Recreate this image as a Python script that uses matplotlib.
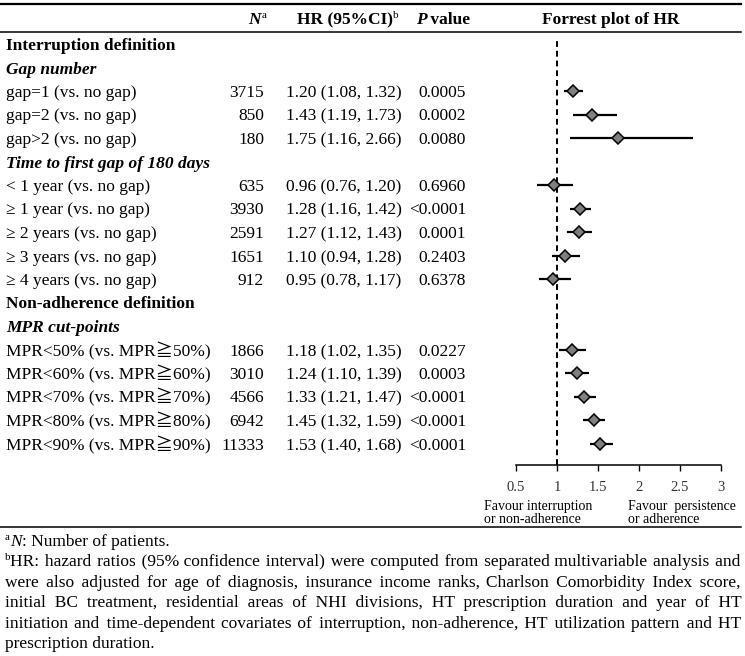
#!/usr/bin/env python3
"""Forest plot table of hazard ratios for interruption / non-adherence definitions."""
import matplotlib

matplotlib.use("Agg")
import matplotlib.pyplot as plt

plt.rcParams["font.family"] = ["Liberation Serif", "Noto Sans CJK JP"]

# ---- data -------------------------------------------------------------
gap_labels = ["gap=1 (vs. no gap)", "gap=2 (vs. no gap)", "gap>2 (vs. no gap)"]
gap_n = [3715, 850, 180]
gap_hr = [1.20, 1.43, 1.75]
gap_lo = [1.08, 1.19, 1.16]
gap_hi = [1.32, 1.73, 2.66]
gap_p = ["0.0005", "0.0002", "0.0080"]

time_labels = ["< 1 year (vs. no gap)", "\u2265 1 year (vs. no gap)", "\u2265 2 years (vs. no gap)",
               "\u2265 3 years (vs. no gap)", "\u2265 4 years (vs. no gap)"]
time_n = [635, 3930, 2591, 1651, 912]
time_hr = [0.96, 1.28, 1.27, 1.10, 0.95]
time_lo = [0.76, 1.16, 1.12, 0.94, 0.78]
time_hi = [1.20, 1.42, 1.43, 1.28, 1.17]
time_p = ["0.6960", "<0.0001", "0.0001", "0.2403", "0.6378"]

mpr_labels = [f"MPR<{c}% (vs. MPR\u2267{c}%)" for c in (50, 60, 70, 80, 90)]
mpr_n = [1866, 3010, 4566, 6942, 11333]
mpr_hr = [1.18, 1.24, 1.33, 1.45, 1.53]
mpr_lo = [1.02, 1.10, 1.21, 1.32, 1.40]
mpr_hi = [1.35, 1.39, 1.47, 1.59, 1.68]
mpr_p = ["0.0227", "0.0003", "<0.0001", "<0.0001", "<0.0001"]

x_ticks = [0.5, 1, 1.5, 2, 2.5, 3]
x_tick_labels = ["0.5", "1", "1.5", "2", "2.5", "3"]

footnote_b = [
    "HR: hazard ratios (95% confidence interval) were computed from separated multivariable analysis and",
    "were also adjusted for age of diagnosis, insurance income ranks, Charlson Comorbidity Index score,",
    "initial BC treatment, residential areas of NHI divisions, HT prescription duration and year of HT",
    "initiation and time-dependent covariates of interruption, non-adherence, HT utilization pattern and HT",
    "prescription duration.",
]

# (kind, label, data) ; kind: "sec" bold, "sub" bold italic, "row" data row
table = [("sec", "Interruption definition", None), ("sub", "Gap number", None)]
table += [("row", l, d) for l, d in zip(gap_labels, zip(gap_n, gap_hr, gap_lo, gap_hi, gap_p))]
table += [("sub", "Time to first gap of 180 days", None)]
table += [("row", l, d) for l, d in zip(time_labels, zip(time_n, time_hr, time_lo, time_hi, time_p))]
table += [("sec", "Non-adherence definition", None), ("sub", "MPR cut-points", None)]
table += [("row", l, d) for l, d in zip(mpr_labels, zip(mpr_n, mpr_hr, mpr_lo, mpr_hi, mpr_p))]

# ---- layout (pixels) ---------------------------------------------------
W, H = 745, 656
FS = 12.5
ROW0, STEP = 44, 23.5
AXIS_Y = 465
SERIF = "Liberation Serif"
NOTE_FAM = ["Liberation Serif", "DejaVu Serif"]
HAIR = "\u200a"
REG = dict(fontsize=FS)
BOLD = dict(fontsize=FS, fontweight="bold")
BI = dict(fontsize=FS, fontweight="bold", style="italic")
NOTE = dict(fontsize=FS, family=NOTE_FAM)
NOTE_IT = dict(fontsize=FS, family=SERIF, style="italic")
SUP = dict(fontsize=8, family=SERIF)

fig = plt.figure(figsize=(W / 100, H / 100), dpi=100)
ax = fig.add_axes([0, 0, 1, 1])
ax.set_xlim(0, W)
ax.set_ylim(H, 0)
ax.axis("off")
renderer = fig.canvas.get_renderer()


def width(t):
    return t.get_window_extent(renderer).width


def text_width(s, style):
    t = ax.text(0, 0, s, **style)
    w = width(t)
    t.remove()
    return w


def pieces(x, y, parts, ha="left"):
    """parts: list of (text, style, dy)."""
    objs = [ax.text(0, y + dy, s, va="baseline", **kw) for s, kw, dy in parts]
    ws = [width(t) for t in objs]
    total = sum(ws)
    start = {"left": x, "center": x - total / 2, "right": x - total}[ha]
    for t, w in zip(objs, ws):
        t.set_x(start)
        start += w


hair_w = (text_width("a" + HAIR * 20 + "a", NOTE) - text_width("aa", NOTE)) / 20


def justified(x0, x1, y, line, prefix=None):
    """One text object per line; extra hair spaces stretch the word gaps."""
    x = x0
    if prefix is not None:
        pt = ax.text(x0, y - 6, prefix, va="baseline", **SUP)
        x += width(pt)
    words = line.split(" ")
    extra = (x1 - x - text_width(line, NOTE)) / hair_w
    n = len(words) - 1
    out = words[0]
    for k in range(n):
        c = max(0, round(extra * (k + 1) / n) - round(extra * k / n))
        out += " " + HAIR * c + words[k + 1]
    ax.text(x, y, out, va="baseline", **NOTE)


# rules
ax.plot([0, 741], [4, 4], color="black", lw=1.6)
ax.plot([0, 741], [32, 32], color="black", lw=1.1)
ax.plot([0, 741], [526.5, 526.5], color="black", lw=1.1)

# header
HB = 24
pieces(266, HB, [("N", BI, 0), ("a", SUP, -6)], ha="right")
pieces(348, HB, [("HR (95%CI)", BOLD, 0), ("b", SUP, -6)], ha="center")
pieces(443, HB, [("P", BI, 0), ("\u00a0value", BOLD, 0)], ha="center")
ax.text(611, HB, "Forrest plot of HR", ha="center", va="baseline", **BOLD)

# table rows
rows_i, hrs, los, his = [], [], [], []
for i, (kind, label, d) in enumerate(table):
    yb = round(ROW0 + STEP * i + 6)
    style = {"sec": BOLD, "sub": BI, "row": REG}[kind]
    ax.text(6, yb, label, va="baseline", **style)
    if d is None:
        continue
    n, hr, lo, hi, p = d
    ax.text(264, yb, f"{n}", ha="right", va="baseline", **REG)
    ax.text(286, yb, f"{hr:.2f} ({lo:.2f}, {hi:.2f})", va="baseline", **REG)
    ax.text(466, yb, p, ha="right", va="baseline", **REG)
    rows_i.append(i)
    hrs.append(hr)
    los.append(lo)
    his.append(hi)

# forest axes
top_px = 38
fx = fig.add_axes([516 / W, (H - AXIS_Y) / H, 205 / W, (AXIS_Y - top_px) / H])
fx.set_xlim(0.5, 3)
fx.set_ylim((AXIS_Y - ROW0) / STEP, (top_px - ROW0) / STEP)
fx.patch.set_visible(False)
for side in ("top", "left", "right"):
    fx.spines[side].set_visible(False)
fx.spines["bottom"].set_linewidth(1.1)
fx.set_yticks([])
fx.set_xticks(x_ticks)
fx.set_xticklabels(x_tick_labels, family=SERIF)
fx.tick_params(axis="x", direction="out", length=4.5, width=1, pad=7,
               labelsize=10.5, labelcolor="#333333")
fx.axvline(1, color="black", lw=1.4, ls=(0, (3, 2)), zorder=1)
fx.hlines(rows_i, los, his, color="black", lw=1.6, zorder=2)
fx.plot(hrs, rows_i, "D", ms=5.8, mfc="#7f7f7f", mec="black", mew=1.1,
        zorder=3, clip_on=False)

# favour captions
FAV = dict(fontsize=10, va="baseline", family=SERIF)
ax.text(484, 510, "Favour interruption", **FAV)
ax.text(484, 523, "or non-adherence", **FAV)
ax.text(628, 510, "Favour  persistence", **FAV)
ax.text(628, 523, "or adherence", **FAV)

# footnotes
FB, FSTEP = 546, 20.4
pieces(5, FB, [("a", SUP, -6), ("N", NOTE_IT, 0), (": Number of patients.", NOTE, 0)])
for k, line in enumerate(footnote_b):
    y = round(FB + FSTEP * (k + 1))
    if k == len(footnote_b) - 1:
        ax.text(5, y, line, va="baseline", **NOTE)
    else:
        justified(5, 741, y, line, prefix="b" if k == 0 else None)

fig.savefig("out.png", dpi=100)
